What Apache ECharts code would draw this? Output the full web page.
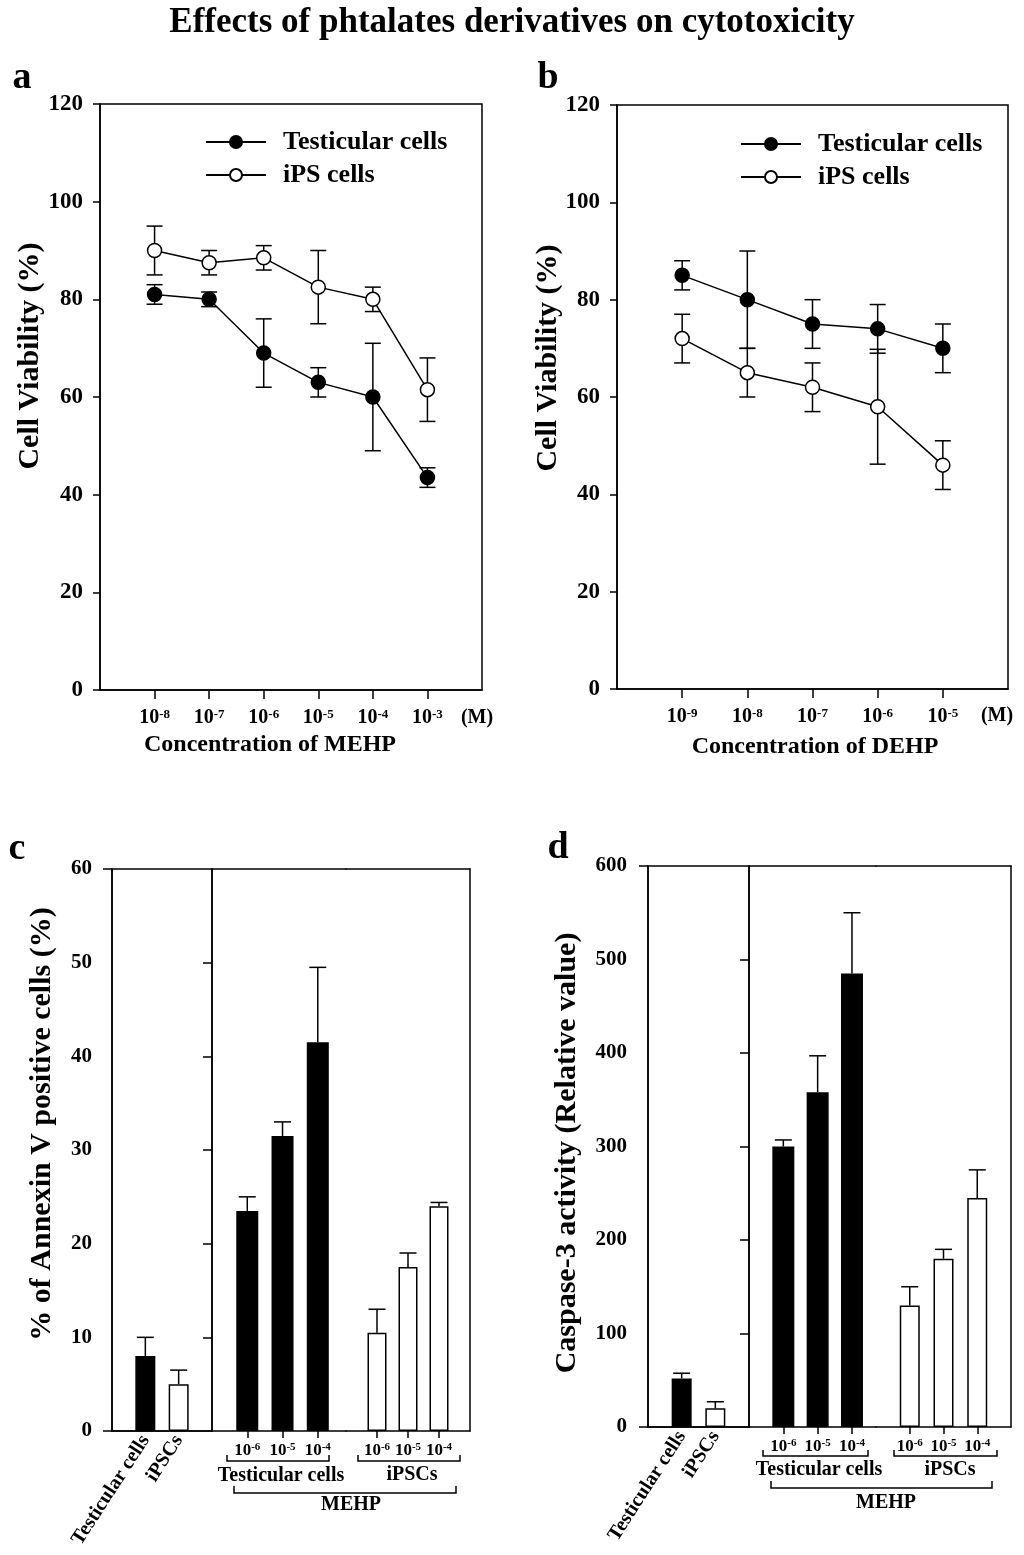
<!DOCTYPE html>
<html><head><meta charset="utf-8">
<script src="https://cdn.jsdelivr.net/npm/echarts@6/dist/echarts.min.js"></script>
<style>html,body{margin:0;padding:0;background:#fff}#c{width:1024px;height:1555px}</style>
</head><body><div id="c"></div>
<script>
// ---------- DATA ----------
const titleText = 'Effects of phtalates derivatives on cytotoxicity';
const seriesNames = ['Testicular cells', 'iPS cells'];
// Panel a (MEHP)
const expA = ['-8', '-7', '-6', '-5', '-4', '-3'];
const testA = [81, 80, 69, 63, 60, 43.5];
const testAErr = [2, 1.5, 7, 3, 11, 2];
const ipsA = [90, 87.5, 88.5, 82.5, 80, 61.5];
const ipsAErr = [5, 2.5, 2.5, 7.5, 2.5, 6.5];
// Panel b (DEHP)
const expB = ['-9', '-8', '-7', '-6', '-5'];
const testB = [85, 80, 75, 74, 70];
const testBErr = [3, 10, 5, 5, 5];
const ipsB = [72, 65, 62, 58, 46];
const ipsBErr = [5, 5, 5, 11.8, 5];
// Panels c, d
const ctrlCats = ['Testicular cells', 'iPSCs'];
const doseExp = ['-6', '-5', '-4'];
const annexinCtrl = [8, 5];
const annexinCtrlErr = [2, 1.5];
const annexinTest = [23.5, 31.5, 41.5];
const annexinTestErr = [1.5, 1.5, 8];
const annexinIps = [10.5, 17.5, 24];
const annexinIpsErr = [2.5, 1.5, 0.4];
const caspCtrl = [52, 20];
const caspCtrlErr = [5.5, 7];
const caspTest = [300, 358, 485];
const caspTestErr = [7, 39, 65];
const caspIps = [130, 180, 245];
const caspIpsErr = [20, 10, 30];

// ---------- STYLE ----------
const FF = "'Liberation Serif', 'Times New Roman', serif";
const BLK = '#000';
const LW = 1.5;
const boldFont = s => 'bold ' + s + 'px ' + FF;

function errRender(cap, upOnly) {
  return function (params, api) {
    const x = api.value(0), y = api.value(1), e = api.value(2);
    const t = api.coord([x, y + e]);
    const b = api.coord([x, upOnly ? y : y - e]);
    const st = { stroke: BLK, lineWidth: LW };
    const ch = [
      { type: 'line', shape: { x1: t[0], y1: t[1], x2: b[0], y2: b[1] }, style: st },
      { type: 'line', shape: { x1: t[0] - cap / 2, y1: t[1], x2: t[0] + cap / 2, y2: t[1] }, style: st }
    ];
    if (!upOnly) ch.push({ type: 'line', shape: { x1: b[0] - cap / 2, y1: b[1], x2: b[0] + cap / 2, y2: b[1] }, style: st });
    return { type: 'group', children: ch };
  };
}
const idx = arr => arr.map((_, i) => i + 1);
const pts = arr => arr.map((v, i) => [i + 1, v]);
const errPts = (arr, err) => arr.map((v, i) => [i + 1, v, err[i]]);

const supRich = (fs, sfs) => ({ s: { fontSize: sfs, fontWeight: 'bold', fontFamily: FF, color: BLK, verticalAlign: 'top', lineHeight: fs } });
const axLine = { show: true, onZero: false, lineStyle: { color: BLK, width: LW } };

function lineXAxis(grid, exps, max) {
  return {
    type: 'value', gridIndex: grid, min: 0, max: max,
    axisLine: axLine,
    axisTick: { show: true, length: 9, customValues: idx(exps), lineStyle: { color: BLK, width: LW } },
    axisLabel: { customValues: idx(exps), formatter: v => '10{s|' + exps[Math.round(v) - 1] + '}', fontSize: 20, fontWeight: 'bold', fontFamily: FF, color: BLK, margin: 18, lineHeight: 20, rich: supRich(20, 13) },
    splitLine: { show: false }
  };
}
function lineYAxis(grid) {
  return {
    type: 'value', gridIndex: grid, min: 0, max: 120, interval: 20,
    axisLine: axLine,
    axisTick: { show: true, length: 7, lineStyle: { color: BLK, width: LW } },
    axisLabel: { fontSize: 23, fontWeight: 'bold', fontFamily: FF, color: BLK, margin: 17 },
    splitLine: { show: false }
  };
}
function lineSeries(name, grid, data, filled) {
  return {
    type: 'line', name: name, xAxisIndex: grid, yAxisIndex: grid, data: pts(data), z: 5,
    symbol: 'circle', symbolSize: 14,
    itemStyle: filled ? { color: BLK, borderColor: BLK, borderWidth: LW } : { color: '#fff', borderColor: BLK, borderWidth: LW },
    lineStyle: { color: BLK, width: LW }
  };
}
function errSeries(grid, data, err, cap, upOnly) {
  return {
    type: 'custom', xAxisIndex: grid, yAxisIndex: grid, data: errPts(data, err), z: 4,
    renderItem: errRender(cap, upOnly), encode: { x: 0, y: 1 }, silent: true
  };
}
function barSeries(grid, data, fill, w) {
  return {
    type: 'bar', xAxisIndex: grid, yAxisIndex: grid, data: pts(data), barWidth: w, z: 2,
    itemStyle: { color: fill, borderColor: BLK, borderWidth: LW }
  };
}
function ctrlXAxis(grid) {
  return {
    type: 'value', gridIndex: grid, min: 0, max: 3,
    axisLine: axLine,
    axisTick: { show: false },
    axisLabel: { customValues: idx(ctrlCats), formatter: v => ctrlCats[Math.round(v) - 1], rotate: 57, fontSize: 20, fontWeight: 'bold', fontFamily: FF, color: BLK, margin: 6 },
    splitLine: { show: false }
  };
}
function doseXAxis(grid, max) {
  return {
    type: 'value', gridIndex: grid, min: 0, max: max,
    axisLine: axLine,
    axisTick: { show: true, length: 7, customValues: idx(doseExp), lineStyle: { color: BLK, width: LW } },
    axisLabel: { customValues: idx(doseExp), formatter: v => '10{s|' + doseExp[Math.round(v) - 1] + '}', fontSize: 17, fontWeight: 'bold', fontFamily: FF, color: BLK, margin: 11, lineHeight: 17, rich: supRich(17, 11) },
    splitLine: { show: false }
  };
}
function topLine(grid, max) {
  return { type: 'value', gridIndex: grid, position: 'top', min: 0, max: max, axisLine: axLine, axisTick: { show: false }, axisLabel: { show: false }, splitLine: { show: false } };
}
function barYAxis(grid, max, interval, mode, margin) {
  const ticksAll = [];
  for (let v = 0; v <= max; v += interval) ticksAll.push(v);
  const a = {
    type: 'value', gridIndex: grid, min: 0, max: max, interval: interval, position: 'left',
    axisLine: { show: mode !== 'hidden', onZero: false, lineStyle: { color: BLK, width: LW } },
    axisTick: { show: mode !== 'hidden', length: 9, lineStyle: { color: BLK, width: LW } },
    axisLabel: { show: mode === 'labels', fontSize: 21, fontWeight: 'bold', fontFamily: FF, color: BLK, margin: margin },
    splitLine: { show: false }
  };
  if (mode === 'labels') a.axisTick.customValues = [0, max];
  if (mode === 'ticks') a.axisTick.customValues = ticksAll.slice(1, -1);
  return a;
}
function rightLine(grid, max) {
  return { type: 'value', gridIndex: grid, position: 'right', min: 0, max: max, axisLine: axLine, axisTick: { show: false }, axisLabel: { show: false }, splitLine: { show: false } };
}

const frame = { show: true, borderColor: BLK, borderWidth: LW, backgroundColor: 'transparent' };
const grids = [
  Object.assign({ left: 100, top: 104, width: 382, height: 586 }, frame),   // a
  Object.assign({ left: 617, top: 105, width: 391, height: 584 }, frame),   // b
  Object.assign({ left: 112, top: 869, width: 100, height: 562 }, frame),   // c ctrl
  { left: 212, top: 869, width: 134, height: 562 },                        // c test
  { left: 346, top: 869, width: 124, height: 562 },                        // c ips
  Object.assign({ left: 648, top: 866, width: 101, height: 561 }, frame),   // d ctrl
  { left: 749, top: 866, width: 127, height: 561 },                        // d test
  { left: 876, top: 866, width: 135, height: 561 }                         // d ips
];

const xAxes = [
  lineXAxis(0, expA, expA.length + 1),
  lineXAxis(1, expB, expB.length + 1),
  ctrlXAxis(2), doseXAxis(3, 3.8), doseXAxis(4, 4),
  ctrlXAxis(5), doseXAxis(6, 3.7), doseXAxis(7, 4),
  topLine(3, 3.8), topLine(4, 4), topLine(6, 3.7), topLine(7, 4)
];
const yAxes = [
  lineYAxis(0), lineYAxis(1),
  barYAxis(2, 60, 10, 'labels', 20), barYAxis(3, 60, 10, 'ticks'), barYAxis(4, 60, 10, 'hidden'),
  barYAxis(5, 600, 100, 'labels', 21), barYAxis(6, 600, 100, 'ticks'), barYAxis(7, 600, 100, 'hidden'),
  rightLine(4, 60), rightLine(7, 600)
];

const series = [
  errSeries(0, testA, testAErr, 16, false), errSeries(0, ipsA, ipsAErr, 16, false),
  lineSeries(seriesNames[0], 0, testA, true), lineSeries(seriesNames[1], 0, ipsA, false),
  errSeries(1, testB, testBErr, 16, false), errSeries(1, ipsB, ipsBErr, 16, false),
  lineSeries(seriesNames[0], 1, testB, true), lineSeries(seriesNames[1], 1, ipsB, false),
  // c
  Object.assign(barSeries(2, annexinCtrl, BLK, 20), { data: annexinCtrl.map((v, i) => ({ value: [i + 1, v], itemStyle: { color: i === 0 ? BLK : '#fff' } })) }),
  errSeries(2, annexinCtrl, annexinCtrlErr, 17, true),
  barSeries(3, annexinTest, BLK, 22), errSeries(3, annexinTest, annexinTestErr, 17, true),
  barSeries(4, annexinIps, '#fff', 19), errSeries(4, annexinIps, annexinIpsErr, 17, true),
  // d
  Object.assign(barSeries(5, caspCtrl, BLK, 20), { data: caspCtrl.map((v, i) => ({ value: [i + 1, v], itemStyle: { color: i === 0 ? BLK : '#fff' } })) }),
  errSeries(5, caspCtrl, caspCtrlErr, 17, true),
  barSeries(6, caspTest, BLK, 22), errSeries(6, caspTest, caspTestErr, 17, true),
  barSeries(7, caspIps, '#fff', 20), errSeries(7, caspIps, caspIpsErr, 17, true)
];

function legend(left, top) {
  return {
    data: seriesNames, left: left, top: top, orient: 'vertical', padding: 0, itemWidth: 60, itemHeight: 15, itemGap: 7,
    textStyle: { fontSize: 26, fontWeight: 'bold', fontFamily: FF, color: BLK, padding: [0, 0, 0, 12] },
    selectedMode: false
  };
}

function txt(x, y, text, size, extra) {
  return Object.assign({ type: 'text', x: x, y: y, silent: true, style: { text: text, font: boldFont(size), fill: BLK, textAlign: 'center', textVerticalAlign: 'middle' } }, extra || {});
}
function vtxt(x, y, text, size) { return txt(x, y, text, size, { rotation: Math.PI / 2 }); }
function bracket(x1, x2, y, h) {
  return { type: 'polyline', silent: true, shape: { points: [[x1, y - h], [x1, y], [x2, y], [x2, y - h]] }, style: { stroke: BLK, lineWidth: LW, fill: null } };
}

const graphic = [
  txt(512, 23, titleText, 35),
  txt(22, 78, 'a', 38), txt(548, 78, 'b', 38), txt(17, 849, 'c', 38), txt(558, 848, 'd', 38),
  vtxt(30, 356, 'Cell Viability (%)', 30),
  vtxt(548, 358, 'Cell Viability (%)', 30),
  txt(270, 745, 'Concentration of MEHP', 24),
  txt(815, 747, 'Concentration of DEHP', 24),
  txt(477, 718, '(M)', 20), txt(997, 716, '(M)', 20),
  vtxt(42, 1124, '% of Annexin V positive cells (%)', 30),
  vtxt(567, 1153, 'Caspase-3 activity (Relative value)', 30),
  // c brackets
  bracket(227, 329, 1461, 6), bracket(358, 460, 1461, 6), bracket(234, 456, 1493, 7),
  txt(281, 1476, ctrlCats[0], 20), txt(412, 1475, ctrlCats[1], 20), txt(351, 1505, 'MEHP', 20),
  // d brackets
  bracket(763, 868, 1456, 6), bracket(894, 997, 1456, 6), bracket(771, 992, 1488, 7),
  txt(819, 1470, ctrlCats[0], 20), txt(950, 1470, ctrlCats[1], 20), txt(886, 1503, 'MEHP', 20)
];

const chart = echarts.init(document.getElementById('c'));
chart.setOption({
  animation: false,
  backgroundColor: '#fff',
  grid: grids,
  xAxis: xAxes,
  yAxis: yAxes,
  legend: [legend(205, 129), legend(740, 131)],
  series: series,
  graphic: graphic
});
</script>
</body></html>
